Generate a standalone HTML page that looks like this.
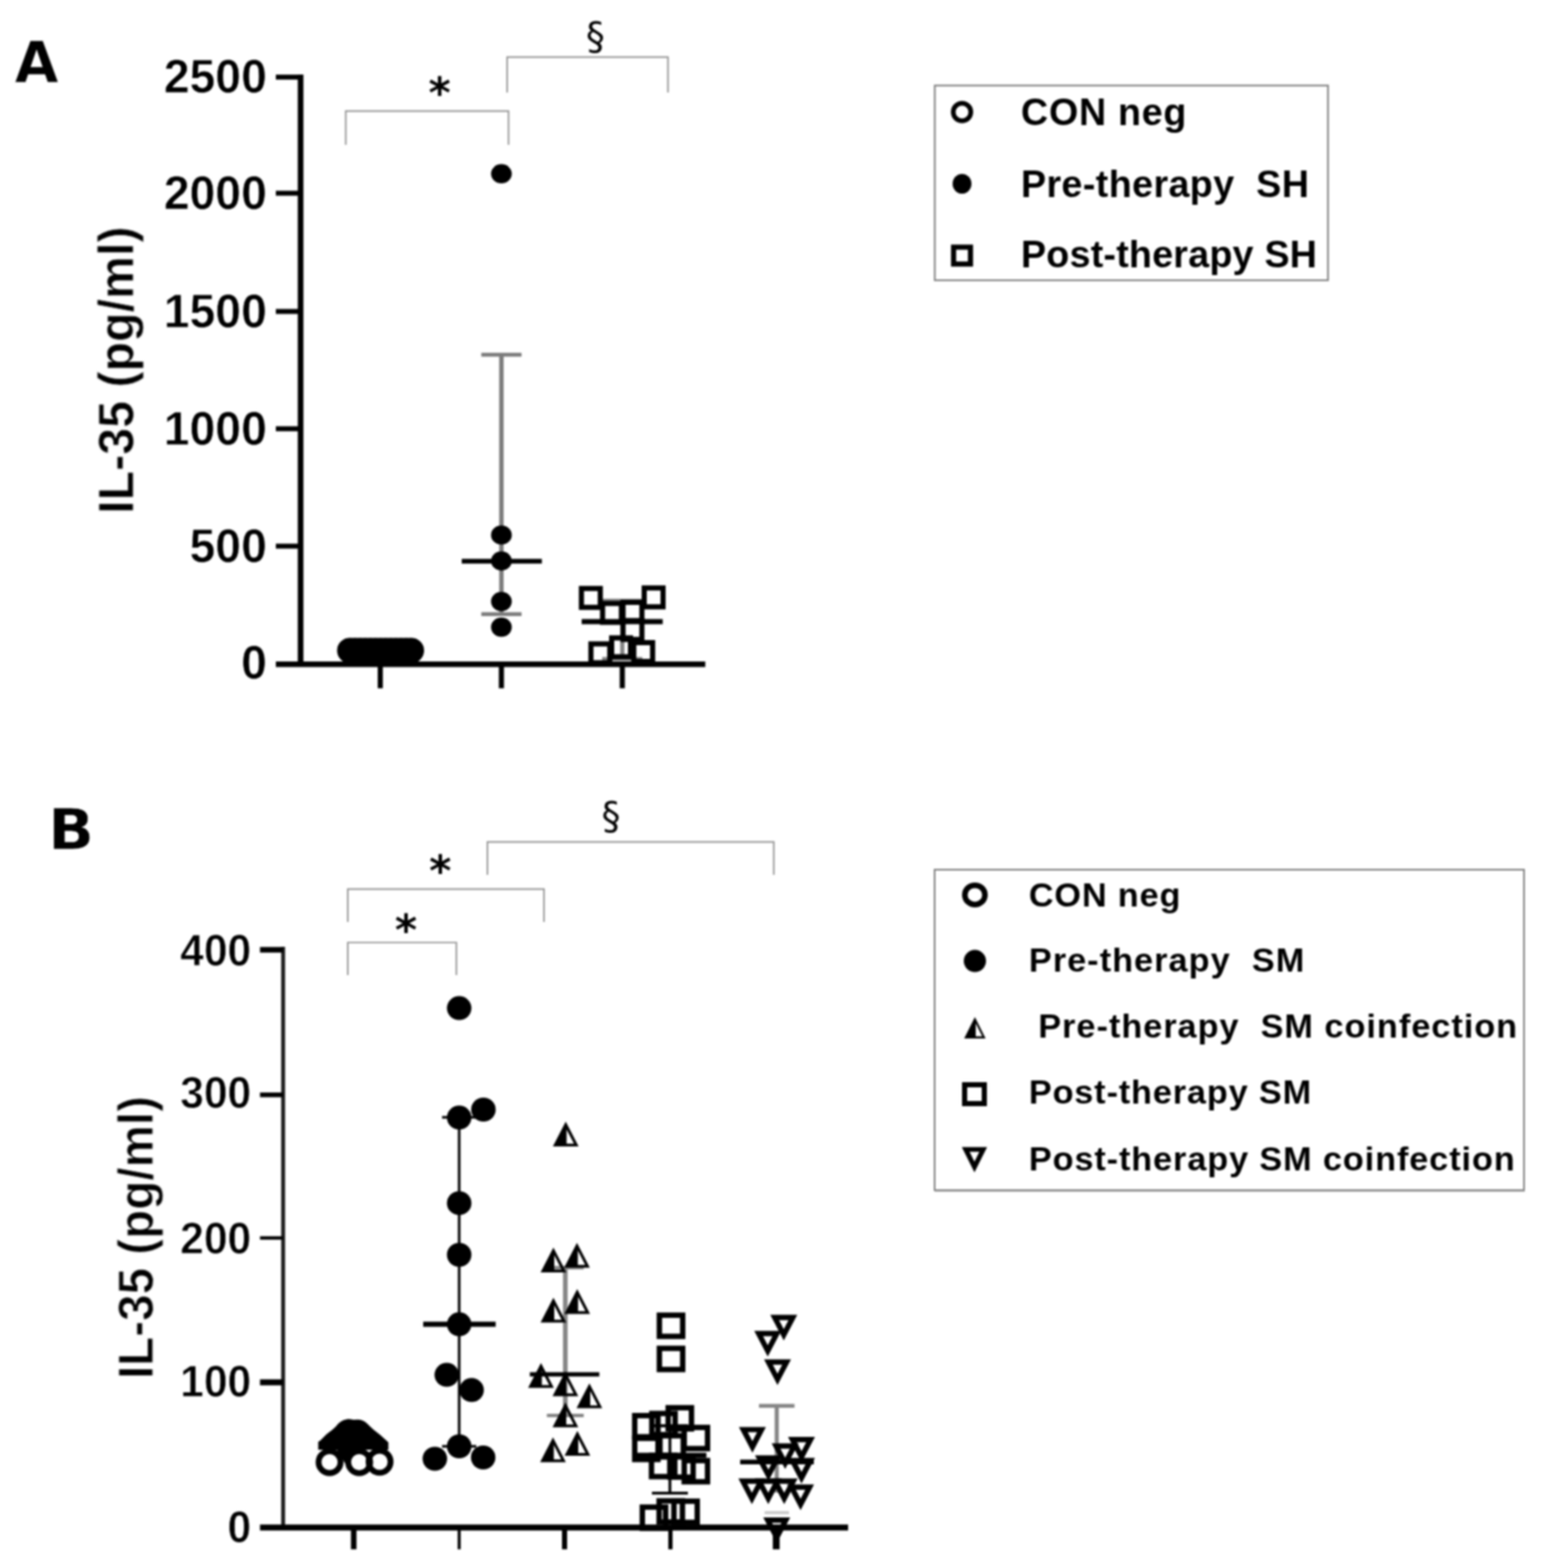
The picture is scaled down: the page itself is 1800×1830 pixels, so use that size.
<!DOCTYPE html>
<html lang="en">
<head>
<meta charset="utf-8">
<title>IL-35 levels</title>
<style>
html, body { margin: 0; padding: 0; background: #fff; }
body { width: 1800px; height: 1830px; overflow: hidden; }
svg { display: block; }
</style>
</head>
<body>
<svg width="1800" height="1830" viewBox="0 0 1800 1830">
<defs><filter id="soft" x="0" y="0" width="1800" height="1830" filterUnits="userSpaceOnUse" color-interpolation-filters="sRGB"><feGaussianBlur stdDeviation="1.3"/></filter><filter id="soft2" x="0" y="0" width="1800" height="1830" filterUnits="userSpaceOnUse" color-interpolation-filters="sRGB"><feGaussianBlur stdDeviation="0.8"/></filter></defs>
<rect width="1800" height="1830" fill="#fff"/>
<g filter="url(#soft)">
<text transform="translate(17.2,96) scale(1.03,1.02)" font-family="'DejaVu Sans', Verdana, sans-serif" font-size="64" font-weight="bold" text-anchor="start" fill="#000" xml:space="preserve" style="white-space:pre" stroke="#fff" stroke-width="0.6">A</text>
<line x1="350.9" y1="87" x2="350.9" y2="778" stroke="#000" stroke-width="6.6"/>
<line x1="322" y1="775.2" x2="823.3" y2="775.2" stroke="#000" stroke-width="6.6"/>
<line x1="322" y1="90" x2="350.9" y2="90" stroke="#000" stroke-width="5.8"/>
<line x1="322" y1="225.5" x2="350.9" y2="225.5" stroke="#000" stroke-width="5.8"/>
<line x1="322" y1="363.5" x2="350.9" y2="363.5" stroke="#000" stroke-width="5.8"/>
<line x1="322" y1="500.4" x2="350.9" y2="500.4" stroke="#000" stroke-width="5.8"/>
<line x1="322" y1="637.4" x2="350.9" y2="637.4" stroke="#000" stroke-width="5.8"/>
<text transform="translate(311.5,107.6) scale(1.02,1.05)" font-family="'Liberation Sans', Arial, Helvetica, sans-serif" font-size="53" font-weight="bold" text-anchor="end" fill="#000" xml:space="preserve" style="white-space:pre" stroke="#fff" stroke-width="0.6">2500</text>
<text transform="translate(311.5,243.6) scale(1.02,1.05)" font-family="'Liberation Sans', Arial, Helvetica, sans-serif" font-size="53" font-weight="bold" text-anchor="end" fill="#000" xml:space="preserve" style="white-space:pre" stroke="#fff" stroke-width="0.6">2000</text>
<text transform="translate(311.5,381.6) scale(1.02,1.05)" font-family="'Liberation Sans', Arial, Helvetica, sans-serif" font-size="53" font-weight="bold" text-anchor="end" fill="#000" xml:space="preserve" style="white-space:pre" stroke="#fff" stroke-width="0.6">1500</text>
<text transform="translate(311.5,518.6) scale(1.02,1.05)" font-family="'Liberation Sans', Arial, Helvetica, sans-serif" font-size="53" font-weight="bold" text-anchor="end" fill="#000" xml:space="preserve" style="white-space:pre" stroke="#fff" stroke-width="0.6">1000</text>
<text transform="translate(311.5,655.6) scale(1.02,1.05)" font-family="'Liberation Sans', Arial, Helvetica, sans-serif" font-size="53" font-weight="bold" text-anchor="end" fill="#000" xml:space="preserve" style="white-space:pre" stroke="#fff" stroke-width="0.6">500</text>
<text transform="translate(311.5,792.1) scale(1.02,1.05)" font-family="'Liberation Sans', Arial, Helvetica, sans-serif" font-size="53" font-weight="bold" text-anchor="end" fill="#000" xml:space="preserve" style="white-space:pre" stroke="#fff" stroke-width="0.6">0</text>
<line x1="443.9" y1="775" x2="443.9" y2="803.3" stroke="#000" stroke-width="6"/>
<line x1="585.3" y1="775" x2="585.3" y2="803.3" stroke="#000" stroke-width="6"/>
<line x1="726.4" y1="775" x2="726.4" y2="803.3" stroke="#000" stroke-width="6"/>
<text transform="translate(155.5,432) rotate(-90) scale(0.99,1.0)" font-family="'Liberation Sans', Arial, Helvetica, sans-serif" font-size="57" font-weight="bold" text-anchor="middle" fill="#000" xml:space="preserve" style="white-space:pre" stroke="#fff" stroke-width="0.7">IL-35 (pg/ml)</text>
<rect x="393.5" y="744.5" width="101.5" height="29.5" rx="14.75" ry="14.75" fill="#000"/>
<ellipse cx="408.5" cy="759.2" rx="11.3" ry="11.3" fill="none" stroke="#000" stroke-width="6.4"/>
<ellipse cx="414.45" cy="759.2" rx="11.3" ry="11.3" fill="none" stroke="#000" stroke-width="6.4"/>
<ellipse cx="420.4" cy="759.2" rx="11.3" ry="11.3" fill="none" stroke="#000" stroke-width="6.4"/>
<ellipse cx="426.35" cy="759.2" rx="11.3" ry="11.3" fill="none" stroke="#000" stroke-width="6.4"/>
<ellipse cx="432.3" cy="759.2" rx="11.3" ry="11.3" fill="none" stroke="#000" stroke-width="6.4"/>
<ellipse cx="438.25" cy="759.2" rx="11.3" ry="11.3" fill="none" stroke="#000" stroke-width="6.4"/>
<ellipse cx="444.2" cy="759.2" rx="11.3" ry="11.3" fill="none" stroke="#000" stroke-width="6.4"/>
<ellipse cx="450.15" cy="759.2" rx="11.3" ry="11.3" fill="none" stroke="#000" stroke-width="6.4"/>
<ellipse cx="456.1" cy="759.2" rx="11.3" ry="11.3" fill="none" stroke="#000" stroke-width="6.4"/>
<ellipse cx="462.05" cy="759.2" rx="11.3" ry="11.3" fill="none" stroke="#000" stroke-width="6.4"/>
<ellipse cx="468" cy="759.2" rx="11.3" ry="11.3" fill="none" stroke="#000" stroke-width="6.4"/>
<ellipse cx="473.95" cy="759.2" rx="11.3" ry="11.3" fill="none" stroke="#000" stroke-width="6.4"/>
<ellipse cx="479.9" cy="759.2" rx="11.3" ry="11.3" fill="none" stroke="#000" stroke-width="6.4"/>
<line x1="399" y1="759" x2="489" y2="759" stroke="#000" stroke-width="6"/>
<line x1="585.3" y1="414" x2="585.3" y2="716.7" stroke="#7c7c7c" stroke-width="5.2"/>
<line x1="561.8" y1="414" x2="608.8" y2="414" stroke="#7c7c7c" stroke-width="4.6"/>
<line x1="561.8" y1="716.7" x2="608.8" y2="716.7" stroke="#7c7c7c" stroke-width="4.6"/>
<line x1="539" y1="655" x2="632.5" y2="655" stroke="#000" stroke-width="5.3"/>
<ellipse cx="585.3" cy="202.8" rx="12.1" ry="11.2" fill="#000"/>
<ellipse cx="585.3" cy="624.4" rx="12.1" ry="11.2" fill="#000"/>
<ellipse cx="585.3" cy="654.7" rx="12.1" ry="11.2" fill="#000"/>
<ellipse cx="585.3" cy="702" rx="12.1" ry="11.2" fill="#000"/>
<ellipse cx="585.3" cy="732" rx="12.1" ry="11.2" fill="#000"/>
<line x1="726.4" y1="701" x2="726.4" y2="769" stroke="#858585" stroke-width="5"/>
<line x1="702.9" y1="701" x2="749.9" y2="701" stroke="#858585" stroke-width="4.5"/>
<line x1="702.9" y1="769" x2="749.9" y2="769" stroke="#858585" stroke-width="4.5"/>
<rect x="678.7" y="686.8" width="22" height="22" fill="none" stroke="#000" stroke-width="6"/>
<rect x="752" y="686.2" width="22" height="22" fill="none" stroke="#000" stroke-width="6"/>
<rect x="703.4" y="704.3" width="22" height="22" fill="none" stroke="#000" stroke-width="6"/>
<rect x="727.3" y="703" width="22" height="22" fill="none" stroke="#000" stroke-width="6"/>
<rect x="727.3" y="724.3" width="22" height="22" fill="none" stroke="#000" stroke-width="6"/>
<rect x="714" y="744.5" width="22" height="22" fill="none" stroke="#000" stroke-width="6"/>
<rect x="689.8" y="751.5" width="22" height="22" fill="none" stroke="#000" stroke-width="6"/>
<rect x="739.8" y="750" width="22" height="22" fill="none" stroke="#000" stroke-width="6"/>
<line x1="679" y1="725.5" x2="773.6" y2="725.5" stroke="#000" stroke-width="6"/>
<rect x="1091.2" y="99.8" width="459" height="227.3" fill="none" stroke="#808080" stroke-width="2"/>
<ellipse cx="1123" cy="130.7" rx="10.25" ry="10.25" fill="none" stroke="#000" stroke-width="5.5"/>
<ellipse cx="1123" cy="214.5" rx="11" ry="11.5" fill="#000"/>
<rect x="1113.15" y="288.45" width="19.7" height="19.7" fill="none" stroke="#000" stroke-width="6"/>
<text transform="translate(1191.8,145.7)" font-family="'Liberation Sans', Arial, Helvetica, sans-serif" font-size="44" font-weight="bold" text-anchor="start" fill="#000" xml:space="preserve" style="white-space:pre" textLength="193.13" lengthAdjust="spacing">CON neg</text>
<text transform="translate(1191.8,229.5)" font-family="'Liberation Sans', Arial, Helvetica, sans-serif" font-size="44" font-weight="bold" text-anchor="start" fill="#000" xml:space="preserve" style="white-space:pre" textLength="336.11" lengthAdjust="spacing">Pre-therapy  SH</text>
<text transform="translate(1191.8,312.1)" font-family="'Liberation Sans', Arial, Helvetica, sans-serif" font-size="44" font-weight="bold" text-anchor="start" fill="#000" xml:space="preserve" style="white-space:pre" textLength="345.49" lengthAdjust="spacing">Post-therapy SH</text>
<text transform="translate(56.2,990.7) scale(1.1,1.02)" font-family="'DejaVu Sans', Verdana, sans-serif" font-size="64" font-weight="bold" text-anchor="start" fill="#000" xml:space="preserve" style="white-space:pre" stroke="#fff" stroke-width="0.6">B</text>
<line x1="330.5" y1="1105" x2="330.5" y2="1786" stroke="#1a1a1a" stroke-width="4.5"/>
<line x1="303.5" y1="1782.7" x2="990" y2="1782.7" stroke="#000" stroke-width="7"/>
<line x1="303.5" y1="1108.5" x2="330.5" y2="1108.5" stroke="#000" stroke-width="6.5"/>
<line x1="303.5" y1="1277.8" x2="330.5" y2="1277.8" stroke="#000" stroke-width="5.5"/>
<line x1="303.5" y1="1444.8" x2="330.5" y2="1444.8" stroke="#000" stroke-width="4"/>
<line x1="303.5" y1="1613.3" x2="330.5" y2="1613.3" stroke="#000" stroke-width="7"/>
<text transform="translate(293.3,1126.9) scale(0.94,0.985)" font-family="'Liberation Sans', Arial, Helvetica, sans-serif" font-size="53" font-weight="bold" text-anchor="end" fill="#000" xml:space="preserve" style="white-space:pre" stroke="#fff" stroke-width="0.8">400</text>
<text transform="translate(293.3,1293) scale(0.94,0.985)" font-family="'Liberation Sans', Arial, Helvetica, sans-serif" font-size="53" font-weight="bold" text-anchor="end" fill="#000" xml:space="preserve" style="white-space:pre" stroke="#fff" stroke-width="0.8">300</text>
<text transform="translate(293.3,1462.8) scale(0.94,0.985)" font-family="'Liberation Sans', Arial, Helvetica, sans-serif" font-size="53" font-weight="bold" text-anchor="end" fill="#000" xml:space="preserve" style="white-space:pre" stroke="#fff" stroke-width="0.8">200</text>
<text transform="translate(293.3,1629.6) scale(0.94,0.985)" font-family="'Liberation Sans', Arial, Helvetica, sans-serif" font-size="53" font-weight="bold" text-anchor="end" fill="#000" xml:space="preserve" style="white-space:pre" stroke="#fff" stroke-width="0.8">100</text>
<text transform="translate(293.3,1800.1) scale(0.94,0.985)" font-family="'Liberation Sans', Arial, Helvetica, sans-serif" font-size="53" font-weight="bold" text-anchor="end" fill="#000" xml:space="preserve" style="white-space:pre" stroke="#fff" stroke-width="0.8">0</text>
<line x1="412.9" y1="1783" x2="412.9" y2="1808.2" stroke="#000" stroke-width="6.5"/>
<line x1="536" y1="1783" x2="536" y2="1808.2" stroke="#000" stroke-width="3.5"/>
<line x1="659" y1="1783" x2="659" y2="1808.2" stroke="#000" stroke-width="6"/>
<line x1="782.6" y1="1783" x2="782.6" y2="1808.2" stroke="#000" stroke-width="5"/>
<line x1="906.1" y1="1783" x2="906.1" y2="1808.2" stroke="#000" stroke-width="8"/>
<text transform="translate(178.6,1444.3) rotate(-90) scale(1.011,1.06)" font-family="'Liberation Sans', Arial, Helvetica, sans-serif" font-size="55" font-weight="bold" text-anchor="middle" fill="#000" xml:space="preserve" style="white-space:pre" stroke="#fff" stroke-width="0.9">IL-35 (pg/ml)</text>
<ellipse cx="406.8" cy="1673" rx="13" ry="13" fill="none" stroke="#000" stroke-width="7"/>
<ellipse cx="417.2" cy="1673.3" rx="13" ry="13" fill="none" stroke="#000" stroke-width="7"/>
<path d="M392,1690 L414,1690 L403.5,1709 Z" fill="#000"/>
<path d="M371.7,1692 L371.7,1682.6 L373.8,1681.2 L381,1673.9 L387.5,1668.9 L394.8,1662.4 L400.5,1658 L406.3,1656.2 L422.2,1658 L429.4,1662.4 L436.6,1668.9 L443.9,1674.7 L451.1,1681.2 L453.2,1683.3 L453.2,1692 Z" fill="#000"/>
<ellipse cx="384.7" cy="1706.4" rx="12.85" ry="12.85" fill="none" stroke="#000" stroke-width="6.8"/>
<ellipse cx="419.3" cy="1706.5" rx="12.85" ry="12.85" fill="none" stroke="#000" stroke-width="6.8"/>
<ellipse cx="443.1" cy="1706" rx="12.85" ry="12.85" fill="none" stroke="#000" stroke-width="6.8"/>
<line x1="371.7" y1="1687.5" x2="453.2" y2="1687.5" stroke="#000" stroke-width="9"/>
<line x1="536" y1="1304" x2="536" y2="1688" stroke="#000" stroke-width="3"/>
<line x1="516" y1="1304" x2="556" y2="1304" stroke="#000" stroke-width="3"/>
<line x1="516" y1="1688" x2="556" y2="1688" stroke="#000" stroke-width="3"/>
<line x1="494" y1="1545.6" x2="578.6" y2="1545.6" stroke="#000" stroke-width="6"/>
<ellipse cx="536" cy="1176.6" rx="14.3" ry="14" fill="#000"/>
<ellipse cx="564.3" cy="1295" rx="14.3" ry="14" fill="#000"/>
<ellipse cx="536" cy="1304.3" rx="14.3" ry="14" fill="#000"/>
<ellipse cx="536" cy="1404.2" rx="14.3" ry="14" fill="#000"/>
<ellipse cx="536" cy="1464.5" rx="14.3" ry="14" fill="#000"/>
<ellipse cx="536" cy="1545.6" rx="14.3" ry="14" fill="#000"/>
<ellipse cx="521.5" cy="1604.6" rx="14.3" ry="14" fill="#000"/>
<ellipse cx="550.5" cy="1622.3" rx="14.3" ry="14" fill="#000"/>
<ellipse cx="536" cy="1688" rx="14.3" ry="14" fill="#000"/>
<ellipse cx="507.6" cy="1702.5" rx="14.3" ry="14" fill="#000"/>
<ellipse cx="564" cy="1701" rx="14.3" ry="14" fill="#000"/>
<line x1="659.9" y1="1479.5" x2="659.9" y2="1652" stroke="#858585" stroke-width="5.4"/>
<line x1="638.4" y1="1479.5" x2="681.4" y2="1479.5" stroke="#858585" stroke-width="4"/>
<line x1="638.4" y1="1652" x2="681.4" y2="1652" stroke="#858585" stroke-width="4"/>
<path d="M660.4,1309.1 L675.4,1338.1 L645.4,1338.1Z M661.4,1318.22 L669.98,1334.8 L661.4,1334.8Z" fill="#000" fill-rule="evenodd"/>
<path d="M646,1456 L661,1485 L631,1485Z M647,1465.12 L655.58,1481.7 L647,1481.7Z" fill="#000" fill-rule="evenodd"/>
<path d="M673.5,1450.5 L688.5,1479.5 L658.5,1479.5Z M674.5,1459.62 L683.08,1476.2 L674.5,1476.2Z" fill="#000" fill-rule="evenodd"/>
<path d="M646,1514.5 L661,1543.5 L631,1543.5Z M647,1523.62 L655.58,1540.2 L647,1540.2Z" fill="#000" fill-rule="evenodd"/>
<path d="M673.8,1504.5 L688.8,1533.5 L658.8,1533.5Z M674.8,1513.62 L683.38,1530.2 L674.8,1530.2Z" fill="#000" fill-rule="evenodd"/>
<path d="M631.5,1590.8 L646.5,1619.8 L616.5,1619.8Z M632.5,1599.92 L641.08,1616.5 L632.5,1616.5Z" fill="#000" fill-rule="evenodd"/>
<path d="M660,1600.5 L675,1629.5 L645,1629.5Z M661,1609.62 L669.58,1626.2 L661,1626.2Z" fill="#000" fill-rule="evenodd"/>
<path d="M688,1614.5 L703,1643.5 L673,1643.5Z M689,1623.62 L697.58,1640.2 L689,1640.2Z" fill="#000" fill-rule="evenodd"/>
<path d="M660,1636.7 L675,1665.7 L645,1665.7Z M661,1645.82 L669.58,1662.4 L661,1662.4Z" fill="#000" fill-rule="evenodd"/>
<path d="M645.5,1677.5 L660.5,1706.5 L630.5,1706.5Z M646.5,1686.62 L655.08,1703.2 L646.5,1703.2Z" fill="#000" fill-rule="evenodd"/>
<path d="M674,1670.1 L689,1699.1 L659,1699.1Z M675,1679.22 L683.58,1695.8 L675,1695.8Z" fill="#000" fill-rule="evenodd"/>
<line x1="618.5" y1="1604" x2="699.6" y2="1604" stroke="#000" stroke-width="5"/>
<line x1="782" y1="1664" x2="782" y2="1742.6" stroke="#000" stroke-width="3.3"/>
<line x1="761" y1="1664" x2="803" y2="1664" stroke="#000" stroke-width="3.3"/>
<line x1="761" y1="1742.6" x2="803" y2="1742.6" stroke="#000" stroke-width="3.3"/>
<rect x="769.7" y="1534.95" width="27.2" height="24.7" fill="none" stroke="#000" stroke-width="6.3"/>
<rect x="769.7" y="1573.65" width="27.2" height="24.7" fill="none" stroke="#000" stroke-width="6.3"/>
<rect x="740.9" y="1652.15" width="27.2" height="24.7" fill="none" stroke="#000" stroke-width="6.3"/>
<rect x="780" y="1642.95" width="27.2" height="24.7" fill="none" stroke="#000" stroke-width="6.3"/>
<rect x="760.9" y="1649.65" width="27.2" height="24.7" fill="none" stroke="#000" stroke-width="6.3"/>
<rect x="798.7" y="1665.95" width="27.2" height="24.7" fill="none" stroke="#000" stroke-width="6.3"/>
<rect x="740.9" y="1678.65" width="27.2" height="24.7" fill="none" stroke="#000" stroke-width="6.3"/>
<rect x="770.4" y="1675.65" width="27.2" height="24.7" fill="none" stroke="#000" stroke-width="6.3"/>
<rect x="760.5" y="1698.65" width="27.2" height="24.7" fill="none" stroke="#000" stroke-width="6.3"/>
<rect x="798.7" y="1704.65" width="27.2" height="24.7" fill="none" stroke="#000" stroke-width="6.3"/>
<rect x="781.9" y="1699.25" width="27.2" height="24.7" fill="none" stroke="#000" stroke-width="6.3"/>
<rect x="749.8" y="1758.95" width="27.2" height="24.7" fill="none" stroke="#000" stroke-width="6.3"/>
<rect x="769.4" y="1751.65" width="27.2" height="24.7" fill="none" stroke="#000" stroke-width="6.3"/>
<rect x="786.7" y="1752.05" width="27.2" height="24.7" fill="none" stroke="#000" stroke-width="6.3"/>
<line x1="739.4" y1="1698.5" x2="824.6" y2="1698.5" stroke="#000" stroke-width="6"/>
<line x1="906.7" y1="1640.8" x2="906.7" y2="1742" stroke="#858585" stroke-width="4.8"/>
<line x1="885.95" y1="1640.8" x2="927.45" y2="1640.8" stroke="#858585" stroke-width="4.4"/>
<line x1="892.5" y1="1765.4" x2="921" y2="1765.4" stroke="#c8c8c8" stroke-width="3.5"/>
<path d="M899.15,1534.6 L930.65,1534.6 L914.9,1564.6Z M909.41,1540.8 L920.39,1540.8 L914.9,1551.26Z" fill="#000" fill-rule="evenodd"/>
<path d="M880.45,1553.3 L911.95,1553.3 L896.2,1583.3Z M890.71,1559.5 L901.69,1559.5 L896.2,1569.96Z" fill="#000" fill-rule="evenodd"/>
<path d="M891.85,1586.5 L923.35,1586.5 L907.6,1616.5Z M902.11,1592.7 L913.09,1592.7 L907.6,1603.16Z" fill="#000" fill-rule="evenodd"/>
<path d="M862.55,1665.4 L894.05,1665.4 L878.3,1695.4Z M872.81,1671.6 L883.79,1671.6 L878.3,1682.06Z" fill="#000" fill-rule="evenodd"/>
<path d="M919.85,1677 L951.35,1677 L935.6,1707Z M930.11,1683.2 L941.09,1683.2 L935.6,1693.66Z" fill="#000" fill-rule="evenodd"/>
<path d="M900.75,1684.5 L932.25,1684.5 L916.5,1714.5Z M911.01,1690.7 L921.99,1690.7 L916.5,1701.16Z" fill="#000" fill-rule="evenodd"/>
<path d="M881.25,1698.5 L912.75,1698.5 L897,1728.5Z M891.51,1704.7 L902.49,1704.7 L897,1715.16Z" fill="#000" fill-rule="evenodd"/>
<path d="M919.85,1701.4 L951.35,1701.4 L935.6,1731.4Z M930.11,1707.6 L941.09,1707.6 L935.6,1718.06Z" fill="#000" fill-rule="evenodd"/>
<path d="M861.95,1725.6 L893.45,1725.6 L877.7,1755.6Z M872.21,1731.8 L883.19,1731.8 L877.7,1742.26Z" fill="#000" fill-rule="evenodd"/>
<path d="M881.05,1725.6 L912.55,1725.6 L896.8,1755.6Z M891.31,1731.8 L902.29,1731.8 L896.8,1742.26Z" fill="#000" fill-rule="evenodd"/>
<path d="M899.65,1725.6 L931.15,1725.6 L915.4,1755.6Z M909.91,1731.8 L920.89,1731.8 L915.4,1742.26Z" fill="#000" fill-rule="evenodd"/>
<path d="M918.75,1732.5 L950.25,1732.5 L934.5,1762.5Z M929.01,1738.7 L939.99,1738.7 L934.5,1749.16Z" fill="#000" fill-rule="evenodd"/>
<path d="M890.95,1771 L922.45,1771 L906.7,1801Z M901.21,1777.2 L912.19,1777.2 L906.7,1787.66Z" fill="#000" fill-rule="evenodd"/>
<line x1="864" y1="1706.3" x2="950" y2="1706.3" stroke="#000" stroke-width="5.5"/>
<rect x="1091" y="1015" width="688" height="374" fill="none" stroke="#808080" stroke-width="2"/>
<line x1="1091" y1="1390.3" x2="1780" y2="1390.3" stroke="#b0b0b0" stroke-width="1.6"/>
<ellipse cx="1138" cy="1044.4" rx="11.75" ry="11.25" fill="none" stroke="#000" stroke-width="6.5"/>
<ellipse cx="1138" cy="1121.6" rx="13" ry="13" fill="#000"/>
<path d="M1138,1187 L1150.5,1212 L1125.5,1212Z M1139,1194.37 L1146.62,1209.6 L1139,1209.6Z" fill="#000" fill-rule="evenodd"/>
<rect x="1126" y="1266" width="23" height="22" fill="none" stroke="#000" stroke-width="6"/>
<path d="M1122.75,1338.75 L1152.25,1338.75 L1137.5,1368.25Z M1131.81,1344.35 L1143.19,1344.35 L1137.5,1355.73Z" fill="#000" fill-rule="evenodd"/>
<text transform="translate(1201,1058) scale(1.0,0.95)" font-family="'Liberation Sans', Arial, Helvetica, sans-serif" font-size="40" font-weight="bold" text-anchor="start" fill="#000" xml:space="preserve" style="white-space:pre" textLength="176.91" lengthAdjust="spacing">CON neg</text>
<text transform="translate(1201,1134) scale(1.0,0.95)" font-family="'Liberation Sans', Arial, Helvetica, sans-serif" font-size="40" font-weight="bold" text-anchor="start" fill="#000" xml:space="preserve" style="white-space:pre" textLength="321.53" lengthAdjust="spacing">Pre-therapy  SM</text>
<text transform="translate(1212,1211) scale(1.0,0.95)" font-family="'Liberation Sans', Arial, Helvetica, sans-serif" font-size="40" font-weight="bold" text-anchor="start" fill="#000" xml:space="preserve" style="white-space:pre" textLength="558.99" lengthAdjust="spacing">Pre-therapy  SM coinfection</text>
<text transform="translate(1201,1288) scale(1.0,0.95)" font-family="'Liberation Sans', Arial, Helvetica, sans-serif" font-size="40" font-weight="bold" text-anchor="start" fill="#000" xml:space="preserve" style="white-space:pre" textLength="329.61" lengthAdjust="spacing">Post-therapy SM</text>
<text transform="translate(1201,1365.5) scale(1.0,0.95)" font-family="'Liberation Sans', Arial, Helvetica, sans-serif" font-size="40" font-weight="bold" text-anchor="start" fill="#000" xml:space="preserve" style="white-space:pre" textLength="567.06" lengthAdjust="spacing">Post-therapy SM coinfection</text>
</g>
<g filter="url(#soft2)">
<polyline points="403.6,169 403.6,129.7 593.6,129.7 593.6,169" fill="none" stroke="#8c8c8c" stroke-width="1.7"/>
<polyline points="592,108 592,66.7 779.7,66.7 779.7,108" fill="none" stroke="#8c8c8c" stroke-width="1.7"/>
<text transform="translate(513.3,125.8)" font-family="'DejaVu Sans', Verdana, sans-serif" font-size="49.5" font-weight="bold" text-anchor="middle" fill="#000" xml:space="preserve" style="white-space:pre">*</text>
<text transform="translate(695,58)" font-family="'DejaVu Sans', Verdana, sans-serif" font-size="44" font-weight="normal" text-anchor="middle" fill="#000" xml:space="preserve" style="white-space:pre">§</text>
<polyline points="406,1138 406,1100 532.7,1100 532.7,1138" fill="none" stroke="#8c8c8c" stroke-width="1.7"/>
<polyline points="406,1076 406,1037.7 635,1037.7 635,1076" fill="none" stroke="#8c8c8c" stroke-width="1.7"/>
<polyline points="569,1021 569,982.7 903.3,982.7 903.3,1021" fill="none" stroke="#8c8c8c" stroke-width="1.7"/>
<text transform="translate(474,1103.3)" font-family="'DejaVu Sans', Verdana, sans-serif" font-size="49.5" font-weight="bold" text-anchor="middle" fill="#000" xml:space="preserve" style="white-space:pre">*</text>
<text transform="translate(513.9,1033.8)" font-family="'DejaVu Sans', Verdana, sans-serif" font-size="49.5" font-weight="bold" text-anchor="middle" fill="#000" xml:space="preserve" style="white-space:pre">*</text>
<text transform="translate(713.3,968)" font-family="'DejaVu Sans', Verdana, sans-serif" font-size="44" font-weight="normal" text-anchor="middle" fill="#000" xml:space="preserve" style="white-space:pre">§</text>
</g>
</svg>
</body>
</html>
